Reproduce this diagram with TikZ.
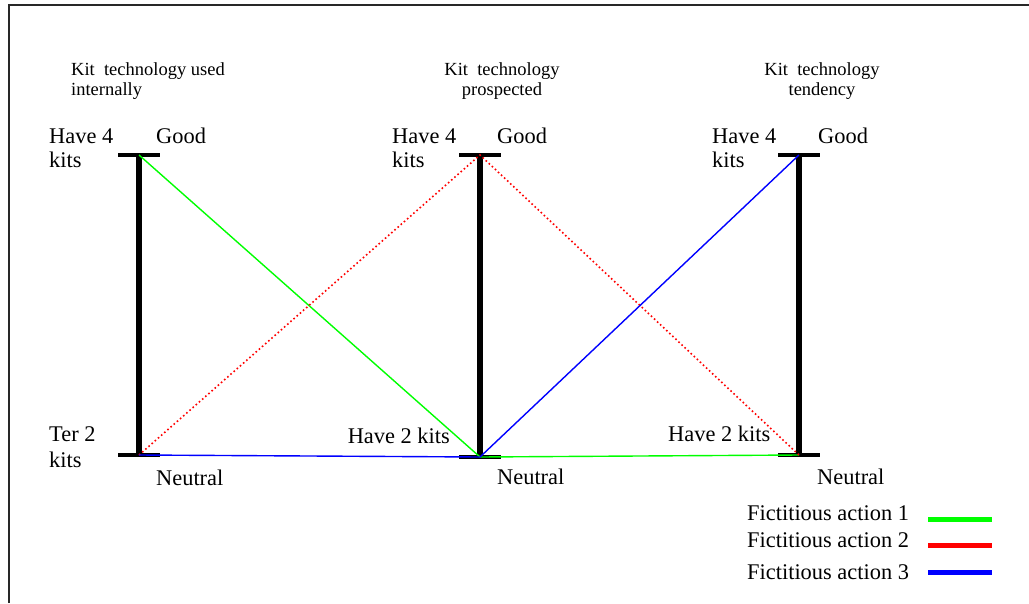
\documentclass[tikz,border=0pt]{standalone}
\usepackage{fontspec}
\setmainfont{Liberation Serif}
\definecolor{actgreen}{RGB}{0,255,0}
\definecolor{actred}{RGB}{255,0,0}
\definecolor{actblue}{RGB}{0,0,255}
\definecolor{framegray}{RGB}{40,40,40}
\begin{document}
\begin{tikzpicture}[x=1pt,y=-1pt,
  big/.style={font=\rmfamily\fontsize{22.4}{24}\selectfont, inner sep=0pt, anchor=base west},
  small/.style={font=\rmfamily\fontsize{18.5}{20}\selectfont, inner sep=0pt},
  axisline/.style={line width=6pt},
  barline/.style={line width=4pt},
  actone/.style={draw=actgreen, line width=1.4pt},
  acttwo/.style={draw=actred, line width=1.6pt, dash pattern=on 1.6pt off 2.6pt},
  actthree/.style={draw=actblue, line width=1.4pt},
  legline/.style={line width=5pt}]
\useasboundingbox (0,0) rectangle (1029,603);
% frame
\draw[framegray, line width=2pt] (9,603) -- (9,5) -- (1029,5);

% axis end points
\coordinate (t1) at (139,155); \coordinate (b1) at (139,455);
\coordinate (t2) at (480,155); \coordinate (b2) at (480,457);
\coordinate (t3) at (799,155); \coordinate (b3) at (799,455);

% axes
\draw[axisline] (t1) -- (b1);
\draw[axisline] (t2) -- (b2);
\draw[axisline] (t3) -- (b3);
\draw[barline] ([xshift=-21pt]t1) -- ([xshift=21pt]t1);
\draw[barline] ([xshift=-21pt]b1) -- ([xshift=21pt]b1);
\draw[barline] ([xshift=-21pt]t2) -- ([xshift=21pt]t2);
\draw[barline] ([xshift=-21pt]b2) -- ([xshift=21pt]b2);
\draw[barline] ([xshift=-21pt]t3) -- ([xshift=21pt]t3);
\draw[barline] ([xshift=-21pt]b3) -- ([xshift=21pt]b3);

% fictitious actions
\draw[actone] (t1) -- (b2) -- (b3);
\draw[acttwo] (b1) -- (t2) -- (b3);
\draw[actthree] (b1) -- (b2) -- (t3);

% titles
\node[small, anchor=base west] (h1a) at (71,75) {Kit\ \ technology used};
\node[small, anchor=base west] (h1b) at (71,95) {internally};
\node[small, anchor=base] (h2a) at (502,75) {Kit\ \ technology};
\node[small, anchor=base] (h2b) at (502,95) {prospected};
\node[small, anchor=base] (h3a) at (822,75) {Kit\ \ technology};
\node[small, anchor=base] (h3b) at (822,95) {tendency};

% top labels
\node[big] (l1a) at (49,143) {Have 4};
\node[big] (l1b) at (49,167) {kits};
\node[big] (g1) at (156,143) {Good};
\node[big] (l2a) at (392,143) {Have 4};
\node[big] (l2b) at (392,167) {kits};
\node[big] (g2) at (497,143) {Good};
\node[big] (l3a) at (712,143) {Have 4};
\node[big] (l3b) at (712,167) {kits};
\node[big] (g3) at (818,143) {Good};

% bottom labels
\node[big] (m1a) at (49,441) {Ter 2};
\node[big] (m1b) at (49,467) {kits};
\node[big] (n1) at (156,485) {Neutral};
\node[big, anchor=base east] (m2) at (450,443) {Have 2 kits};
\node[big] (n2) at (497,484) {Neutral};
\node[big] (m3) at (668,441) {Have 2 kits};
\node[big] (n3) at (817,484) {Neutral};

% legend
\node[big] (k1) at (747,520) {Fictitious action 1};
\node[big] (k2) at (747,547) {Fictitious action 2};
\node[big] (k3) at (747,579) {Fictitious action 3};
\coordinate (k1s) at (928,519); \coordinate (k1e) at (992,519);
\coordinate (k2s) at (928,545); \coordinate (k2e) at (992,545);
\coordinate (k3s) at (928,572); \coordinate (k3e) at (992,572);
\draw[legline, actgreen] (k1s) -- (k1e);
\draw[legline, actred] (k2s) -- (k2e);
\draw[legline, actblue] (k3s) -- (k3e);
\end{tikzpicture}
\end{document}
